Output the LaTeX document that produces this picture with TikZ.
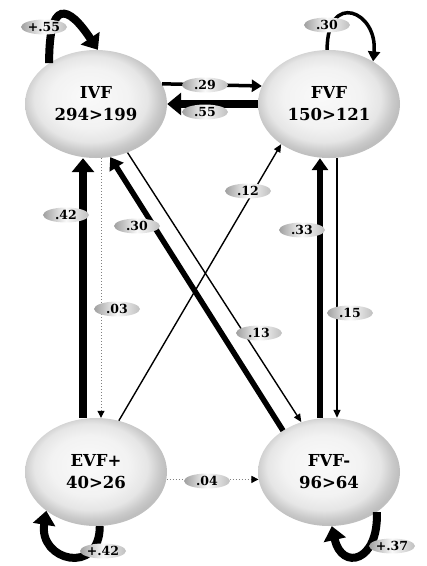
\documentclass[tikz,border=0pt]{standalone}
\usepackage{fontspec}
\setmainfont{DejaVu Serif}
\usetikzlibrary{shapes.geometric, arrows.meta}

\pgfdeclareradialshading{vfball}{\pgfpoint{-3bp}{4bp}}{%
    color(0bp)=(gray!4); color(14bp)=(gray!10); color(20bp)=(gray!20);
    color(24bp)=(gray!42); color(26bp)=(gray!50); color(50bp)=(gray!50)}

\begin{document}
\begin{tikzpicture}[
    x=1pt, y=-1pt,
    vfnode/.style={ellipse, minimum width=142pt, minimum height=108pt,
                   inner sep=0pt, align=center, shading=vfball,
                   font=\fontsize{16.5}{22}\selectfont\bfseries},
    lbl/.style={ellipse, minimum width=46pt, minimum height=15pt,
                inner sep=0pt, left color=gray!75, right color=gray!50,
                middle color=gray!5,
                font=\fontsize{12.5}{13}\selectfont\bfseries},
    heavy/.style={line width=8pt, -{Triangle[length=14pt, width=22pt]}},
    strong/.style={line width=5.5pt, -{Triangle[length=12pt, width=16pt]}},
    medium/.style={line width=3.5pt, -{Triangle[length=10pt, width=12pt]}},
    slim/.style={line width=1.4pt, -{Triangle[length=8pt, width=7pt]}},
    faint/.style={line width=1pt, gray, dotted,
                  -{Triangle[length=7pt, width=7pt, black]}},
]
\useasboundingbox (0,0) rectangle (427,566);

% ── Groups ────────────────────────────────────────────────────────────────
\node[vfnode] (ivf)  at (96,104)  {IVF\\294>199};
\node[vfnode] (fvf)  at (329,104) {FVF\\150>121};
\node[vfnode] (evfp) at (96,472)  {EVF+\\40>26};
\node[vfnode] (fvfm) at (329,472) {FVF-\\96>64};

% ── Top row ───────────────────────────────────────────────────────────────
\draw[medium] (ivf.17) -- (fvf.165);
\draw[heavy] (fvf.west) -- (ivf.east);

% ── Columns ───────────────────────────────────────────────────────────────
\draw[heavy] ([xshift=-13pt]evfp.north) -- ([xshift=-13pt]ivf.south);
\draw[faint] ([xshift=5pt]ivf.south) -- ([xshift=5pt]evfp.north);
\draw[strong] ([xshift=-9pt]fvfm.north) -- ([xshift=-9pt]fvf.south);
\draw[slim] ([xshift=8pt]fvf.south) -- ([xshift=8pt]fvfm.north);

% ── Diagonals and bottom row ──────────────────────────────────────────────
\draw[slim] (ivf.-57) -- (fvfm.119);
\draw[strong] (fvfm.138) -- (ivf.-75);
\draw[slim] (evfp.66) -- (fvf.220);
\draw[faint] (evfp.-6) -- (fvfm.186);

% ── Self loops ────────────────────────────────────────────────────────────
\draw[heavy] (ivf.139) .. controls +(0,-65) and +(-30,-45) .. (ivf.88);
\draw[medium] (fvf.92) .. controls +(0,-60) and +(5,-50) .. (fvf.44);
\draw[heavy] (evfp.-86) .. controls +(0,50) and +(-8,50) .. (evfp.218);
\draw[heavy] (fvfm.-40) .. controls +(2,50) and +(10,45) .. (fvfm.-87);

% ── Coefficients ──────────────────────────────────────────────────────────
\foreach \name/\x/\y/\val in {
    l55a/44/27/+.55, l30a/327/25/.30, l29/205/85/.29, l55b/205/112/.55,
    l42a/66/215/.42, l30b/137/226/.30, l12/248/191/.12, l33/302/230/.33,
    l03/117/309/.03, l13/259/333/.13, l15/350/313/.15, l04/207/481/.04,
    l42b/103/551/+.42, l37/392/546/+.37}
    \node[lbl] (\name) at (\x,\y) {\val};

\end{tikzpicture}
\end{document}
